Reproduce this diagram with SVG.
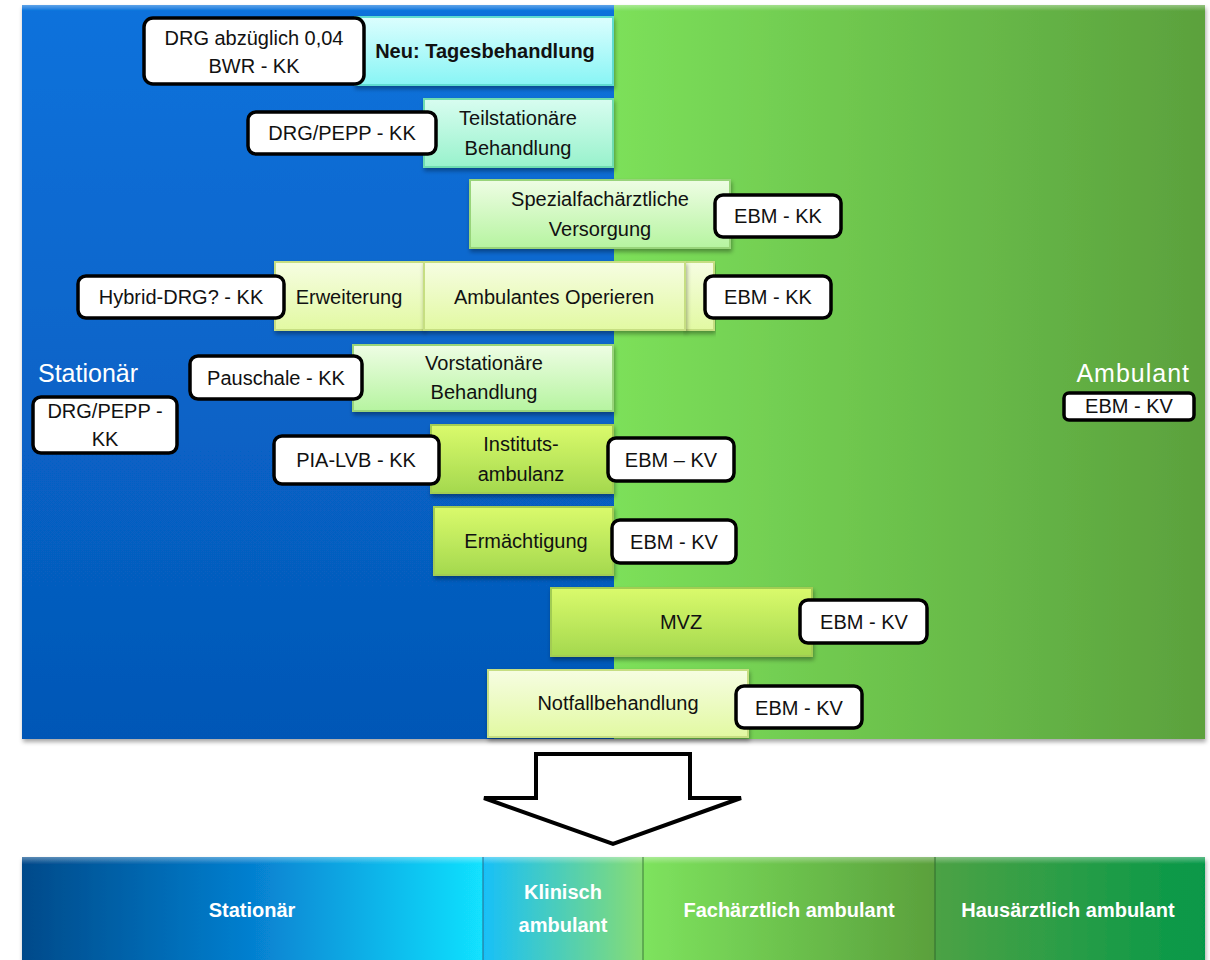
<svg xmlns="http://www.w3.org/2000/svg" width="1210" height="960" viewBox="0 0 1210 960">
<defs>
<linearGradient id="gBlue" x1="0" y1="0" x2="0" y2="1"><stop offset="0" stop-color="#0a72dc"/><stop offset="1" stop-color="#0557b6"/></linearGradient>
<linearGradient id="gGreen" x1="0" y1="0" x2="1" y2="0"><stop offset="0" stop-color="#7ce05a"/><stop offset="1" stop-color="#5ba13d"/></linearGradient>
<linearGradient id="gCyan" x1="0" y1="0" x2="0" y2="1"><stop offset="0" stop-color="#dcfefe"/><stop offset="1" stop-color="#88f5f5"/></linearGradient>
<linearGradient id="gMint" x1="0" y1="0" x2="0" y2="1"><stop offset="0" stop-color="#d8fdf0"/><stop offset="1" stop-color="#98f2cc"/></linearGradient>
<linearGradient id="gPale" x1="0" y1="0" x2="0" y2="1"><stop offset="0" stop-color="#eefde4"/><stop offset="1" stop-color="#b6f4a0"/></linearGradient>
<linearGradient id="gLime" x1="0" y1="0" x2="0" y2="1"><stop offset="0" stop-color="#f6fde2"/><stop offset="1" stop-color="#e2f9a2"/></linearGradient>
<linearGradient id="gYel" x1="0" y1="0" x2="0" y2="1"><stop offset="0" stop-color="#dafa6c"/><stop offset="1" stop-color="#a4d84e"/></linearGradient>
<linearGradient id="bStat" x1="0" y1="0" x2="1" y2="0"><stop offset="0" stop-color="#034a8a"/><stop offset="0.5" stop-color="#0680d0"/><stop offset="1" stop-color="#12e2ff"/></linearGradient>
<linearGradient id="bKlin" x1="0" y1="0" x2="1" y2="0"><stop offset="0" stop-color="#18c0f8"/><stop offset="1" stop-color="#86dc74"/></linearGradient>
<linearGradient id="bFach" x1="0" y1="0" x2="1" y2="0"><stop offset="0" stop-color="#7ee35e"/><stop offset="1" stop-color="#5aa03c"/></linearGradient>
<linearGradient id="bHaus" x1="0" y1="0" x2="1" y2="0"><stop offset="0" stop-color="#4ca244"/><stop offset="1" stop-color="#069848"/></linearGradient>
<linearGradient id="shine" x1="0" y1="0" x2="0" y2="1"><stop offset="0" stop-color="#ffffff" stop-opacity="0.35"/><stop offset="1" stop-color="#ffffff" stop-opacity="0"/></linearGradient>
<filter id="sh" x="-5%" y="-5%" width="110%" height="120%"><feDropShadow dx="1" dy="3" stdDeviation="2" flood-color="#000" flood-opacity="0.35"/></filter>
</defs>
<style>
.t{font-family:"Liberation Sans",Arial,sans-serif;font-size:20px;fill:#111;text-anchor:middle}
.lb{fill:#fff;stroke:#000;stroke-width:3.5}
.bt{font-family:"Liberation Sans",Arial,sans-serif;font-size:20px;font-weight:bold;fill:#fff;text-anchor:middle}
.hd{font-family:"Liberation Sans",Arial,sans-serif;font-size:25px;fill:#fff}
</style>

<g id="panels" filter="url(#sh)">
<rect x="22" y="5" width="594" height="734" fill="url(#gBlue)"/>
<rect x="614" y="5" width="591" height="734" fill="url(#gGreen)"/>
<rect x="22" y="5" width="1183" height="6" fill="url(#shine)"/>
</g>
<g id="headings">
<text class="hd" x="38" y="382">Stationär</text>
<text class="hd" x="1190" y="382" text-anchor="end" letter-spacing="1">Ambulant</text>
</g>

<g id="tagesbehandlung">
<rect x="355" y="17" width="258" height="68" fill="url(#gCyan)" stroke="#5fdcd0" stroke-width="2" filter="url(#sh)"/>
<text class="t" x="485" y="58" font-weight="bold">Neu: Tagesbehandlung</text>
</g>
<g id="lbl-tages">
<rect class="lb" x="144" y="18" width="220" height="66" rx="9"/>
<text class="t" x="254" y="45">DRG abzüglich 0,04</text>
<text class="t" x="254" y="73">BWR - KK</text>
</g>

<g id="teilstationaer">
<rect x="424" y="99" width="189" height="68" fill="url(#gMint)" stroke="#6edcb0" stroke-width="2" filter="url(#sh)"/>
<text class="t" x="518" y="125">Teilstationäre</text>
<text class="t" x="518" y="155">Behandlung</text>
</g>
<g id="lbl-teil">
<rect class="lb" x="248" y="112" width="188" height="42" rx="8"/>
<text class="t" x="342" y="140">DRG/PEPP - KK</text>
</g>

<g id="spezial">
<rect x="470" y="180" width="260" height="68" fill="url(#gPale)" stroke="#98d47a" stroke-width="2" filter="url(#sh)"/>
<text class="t" x="600" y="206">Spezialfachärztliche</text>
<text class="t" x="600" y="236">Versorgung</text>
</g>
<g id="lbl-spezial">
<rect class="lb" x="715" y="195" width="126" height="42" rx="8"/>
<text class="t" x="778" y="223">EBM - KK</text>
</g>

<g id="ambop">
<rect x="275" y="262" width="149" height="68" fill="url(#gLime)" stroke="#c6de82" stroke-width="2" filter="url(#sh)"/>
<rect x="685" y="262" width="29" height="68" fill="url(#gLime)" stroke="#c6de82" stroke-width="2" filter="url(#sh)"/>
<rect x="424" y="262" width="261" height="68" fill="url(#gLime)" stroke="#c6de82" stroke-width="2" filter="url(#sh)"/>
<text class="t" x="349" y="304">Erweiterung</text>
<text class="t" x="554" y="304">Ambulantes Operieren</text>
</g>
<g id="lbl-hybrid">
<rect class="lb" x="78" y="276" width="206" height="42" rx="8"/>
<text class="t" x="181" y="304">Hybrid-DRG? - KK</text>
</g>
<g id="lbl-ambop">
<rect class="lb" x="705" y="276" width="126" height="42" rx="8"/>
<text class="t" x="768" y="304">EBM - KK</text>
</g>

<g id="vorstationaer">
<rect x="353" y="345" width="260" height="66" fill="url(#gPale)" stroke="#98d47a" stroke-width="2" filter="url(#sh)"/>
<text class="t" x="484" y="370">Vorstationäre</text>
<text class="t" x="484" y="399">Behandlung</text>
</g>
<g id="lbl-pauschale">
<rect class="lb" x="190" y="356" width="172" height="43" rx="8"/>
<text class="t" x="276" y="385">Pauschale - KK</text>
</g>
<g id="lbl-stationaer">
<rect class="lb" x="33" y="397" width="144" height="56" rx="8"/>
<text class="t" x="105" y="418">DRG/PEPP -</text>
<text class="t" x="105" y="446">KK</text>
</g>

<g id="institutsambulanz">
<rect x="431" y="425" width="182" height="68" fill="url(#gYel)" stroke="#a2cc52" stroke-width="2" filter="url(#sh)"/>
<text class="t" x="521" y="451">Instituts-</text>
<text class="t" x="521" y="481">ambulanz</text>
</g>
<g id="lbl-pia">
<rect class="lb" x="274" y="436" width="165" height="48" rx="8"/>
<text class="t" x="356" y="467">PIA-LVB - KK</text>
</g>
<g id="lbl-ia">
<rect class="lb" x="608" y="438" width="126" height="43" rx="8"/>
<text class="t" x="671" y="467">EBM – KV</text>
</g>

<g id="ermaechtigung">
<rect x="434" y="507" width="179" height="68" fill="url(#gYel)" stroke="#a2cc52" stroke-width="2" filter="url(#sh)"/>
<text class="t" x="526" y="548">Ermächtigung</text>
</g>
<g id="lbl-erm">
<rect class="lb" x="612" y="520" width="124" height="43" rx="8"/>
<text class="t" x="674" y="549">EBM - KV</text>
</g>

<g id="mvz">
<rect x="551" y="588" width="261" height="68" fill="url(#gYel)" stroke="#a2cc52" stroke-width="2" filter="url(#sh)"/>
<text class="t" x="681" y="629">MVZ</text>
</g>
<g id="lbl-mvz">
<rect class="lb" x="800" y="600" width="127" height="43" rx="8"/>
<text class="t" x="864" y="629">EBM - KV</text>
</g>

<g id="notfall">
<rect x="488" y="670" width="260" height="67" fill="url(#gLime)" stroke="#c6de82" stroke-width="2" filter="url(#sh)"/>
<text class="t" x="618" y="710">Notfallbehandlung</text>
</g>
<g id="lbl-notfall">
<rect class="lb" x="736" y="686" width="126" height="42" rx="8"/>
<text class="t" x="799" y="715">EBM - KV</text>
</g>

<g id="lbl-ambulant">
<rect class="lb" x="1064" y="393" width="130" height="27" rx="5" stroke-width="3"/>
<text class="t" x="1129" y="413" font-size="18">EBM - KV</text>
</g>

<g id="connectors">
<polygon points="536,754 690,754 690,798 741,798 613,844 484,798 536,798" fill="#fff" stroke="#000" stroke-width="4" stroke-linejoin="miter"/>
</g>

<g id="bottom-bar" filter="url(#sh)">
<rect x="22" y="857" width="461" height="103" fill="url(#bStat)"/>
<rect x="483" y="857" width="160" height="103" fill="url(#bKlin)"/>
<rect x="643" y="857" width="292" height="103" fill="url(#bFach)"/>
<rect x="935" y="857" width="270" height="103" fill="url(#bHaus)"/>
<rect x="22" y="857" width="1183" height="7" fill="url(#shine)"/>
<line x1="483" y1="857" x2="483" y2="960" stroke="#2a6a8a" stroke-width="1"/>
<line x1="643" y1="857" x2="643" y2="960" stroke="#3a7a3a" stroke-width="1"/>
<line x1="935" y1="857" x2="935" y2="960" stroke="#2e6a2e" stroke-width="1"/>
</g>
<g id="bottom-labels">
<text class="bt" x="252" y="917">Stationär</text>
<text class="bt" x="563" y="899">Klinisch</text>
<text class="bt" x="563" y="932">ambulant</text>
<text class="bt" x="789" y="917">Fachärztlich ambulant</text>
<text class="bt" x="1068" y="917">Hausärztlich ambulant</text>
</g>
</svg>
